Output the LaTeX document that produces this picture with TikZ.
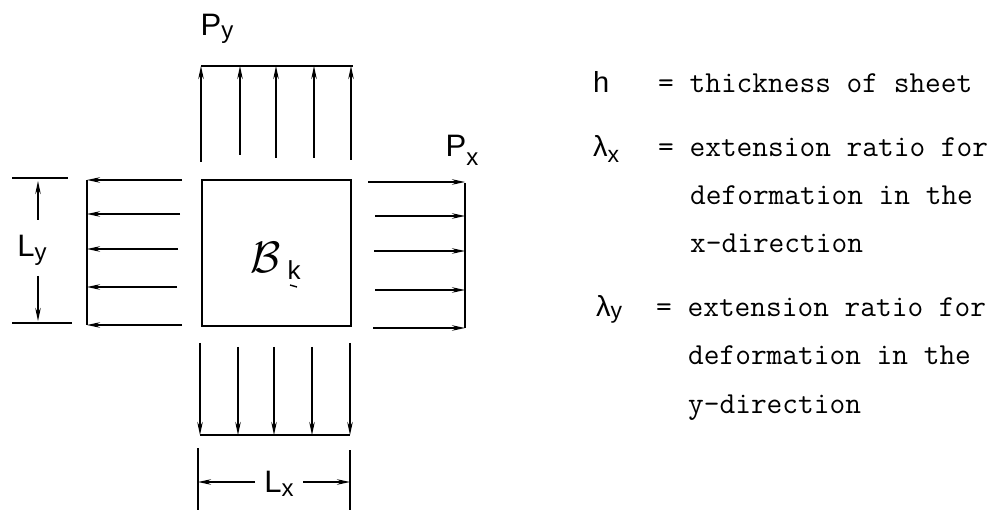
\documentclass[tikz,border=0pt]{standalone}
\usepackage{fontspec}
\usepackage{graphicx}
\usetikzlibrary{arrows.meta}
\newfontfamily\hand{Liberation Sans}
\begin{document}
\begin{tikzpicture}[x=1pt,y=-1pt,
  thin line/.style={line width=1.2pt},
  arr/.style={thin line,-{Stealth[length=13pt,width=5.5pt]}},
  hlab/.style={inner sep=0pt,font=\hand\fontsize{31}{31}\selectfont},
  tline/.style={inner sep=0pt,anchor=base west,font=\ttfamily\fontsize{30.5}{30.5}\selectfont},
  sym/.style={inner sep=0pt,anchor=base west,font=\hand\fontsize{29}{29}\selectfont}]
\useasboundingbox (0,0) rectangle (1001,510);
% square sheet
\node[draw,line width=2.6pt,minimum width=149pt,minimum height=146pt,inner sep=0pt] (sq) at (276.5,253) {};
\node[inner sep=0pt] (B) at (266,257) {\scalebox{4.4}{$\mathcal{B}$}};
\node[inner sep=0pt] (k) at (294,270) {\hand\fontsize{26}{26}\selectfont k};
\coordinate (ka) at (290,285); \coordinate (kb) at (297,287);
\draw[line width=1.4pt] (ka) -- (kb);
% top loads
\coordinate (tl) at (201,66); \coordinate (tr) at (353,66);
\draw[thin line] (tl) -- (tr);
\foreach \x/\y [count=\i] in {201/162,240/155,276/158,314/158,351/160}{
  \coordinate (ts\i) at (\x,\y); \coordinate (te\i) at (\x,66);
  \draw[arr] (ts\i) -- (te\i);}
% bottom loads
\coordinate (bl) at (200,435); \coordinate (br) at (350,435);
\draw[thin line] (bl) -- (br);
\foreach \x/\y [count=\i] in {200/343,238/347,274/347,312/347,350/343}{
  \coordinate (bs\i) at (\x,\y); \coordinate (be\i) at (\x,435);
  \draw[arr] (bs\i) -- (be\i);}
% left loads
\coordinate (lt) at (87,180); \coordinate (lb) at (87,325);
\draw[thin line] (lt) -- (lb);
\foreach \y/\x [count=\i] in {180/182,214/180,249/178,287/177,325/182}{
  \coordinate (ls\i) at (\x,\y); \coordinate (le\i) at (87,\y);
  \draw[arr] (ls\i) -- (le\i);}
% right loads
\coordinate (rt) at (465,183); \coordinate (rb) at (465,328);
\draw[thin line] (rt) -- (rb);
\foreach \y/\x [count=\i] in {182/368,216/375,251/374,290/375,328/373}{
  \coordinate (rs\i) at (\x,\y); \coordinate (re\i) at (465,\y);
  \draw[arr] (rs\i) -- (re\i);}
% labels of loads
\node[hlab] (Py) at (217,29) {P\raisebox{-3pt}{\fontsize{24}{24}\selectfont y}};
\node[hlab] (Px) at (462,150) {P\raisebox{-9pt}{\fontsize{24}{24}\selectfont x}};
% Ly dimension
\coordinate (ly1a) at (12,178); \coordinate (ly1b) at (68,178);
\coordinate (ly2a) at (12,323); \coordinate (ly2b) at (72,323);
\draw[thin line] (ly1a) -- (ly1b);
\draw[thin line] (ly2a) -- (ly2b);
\node[hlab] (Ly) at (32,250) {L\raisebox{-4pt}{\fontsize{24}{24}\selectfont y}};
\coordinate (lyu) at (38,181); \coordinate (lyd) at (38,321);
\coordinate (lyus) at (38,220); \coordinate (lyds) at (38,276);
\draw[arr] (lyus) -- (lyu);
\draw[arr] (lyds) -- (lyd);
% Lx dimension
\coordinate (lx1a) at (198,448); \coordinate (lx1b) at (198,510);
\coordinate (lx2a) at (350,450); \coordinate (lx2b) at (350,510);
\draw[thin line] (lx1a) -- (lx1b);
\draw[thin line] (lx2a) -- (lx2b);
\node[hlab] (Lx) at (279,484) {L\raisebox{-4pt}{\fontsize{24}{24}\selectfont x}};
\coordinate (lxl) at (198,482); \coordinate (lxr) at (350,482);
\coordinate (lxls) at (255,482); \coordinate (lxrs) at (303,482);
\draw[arr] (lxls) -- (lxl);
\draw[arr] (lxrs) -- (lxr);
% legend
\node[sym] (h) at (593,93) {h};
\node[tline] (t1) at (658,93) {= thickness of sheet};
\node[sym] (lx) at (593,157) {λ\raisebox{-6pt}{\fontsize{23}{23}\selectfont x}};
\node[tline] (t2) at (658,157) {= extension ratio for};
\node[tline] (t3) at (690,205) {deformation in the};
\node[tline] (t4) at (690,253) {x-direction};
\node[sym] (lyy) at (596,317) {λ\raisebox{-2pt}{\fontsize{23}{23}\selectfont y}};
\node[tline] (t5) at (656,317) {= extension ratio for};
\node[tline] (t6) at (688,365) {deformation in the};
\node[tline] (t7) at (688,413) {y-direction};
\end{tikzpicture}
\end{document}
